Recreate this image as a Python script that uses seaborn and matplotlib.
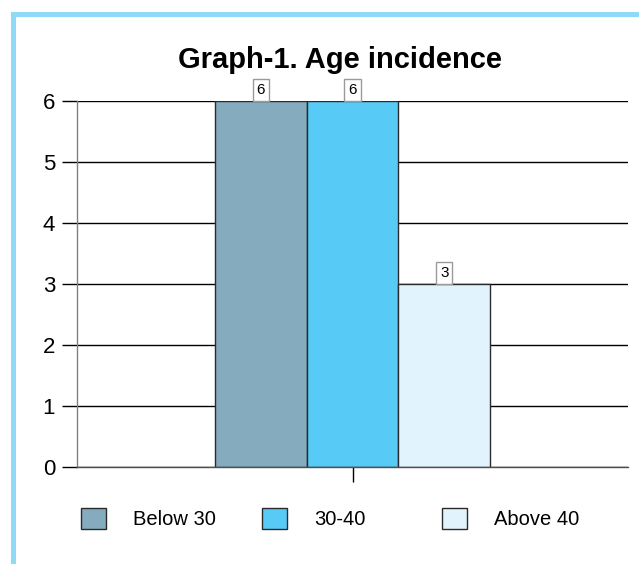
import pandas as pd
import matplotlib.pyplot as plt
import matplotlib.patches as mpatches
import seaborn as sns

# chart data
groups = ["Below 30", "30-40", "Above 40"]
counts = [6, 6, 3]
colors = ["#84abbe", "#57cbf5", "#e1f3fd"]
yticks = [0, 1, 2, 3, 4, 5, 6]

sns.set_theme(style="white")
plt.rcParams['font.family'] = ['Liberation Sans', 'DejaVu Sans']
plt.rcParams['text.color'] = 'black'

df = pd.DataFrame({"cat": [""] * len(groups), "age": groups, "count": counts})

fig = plt.figure(figsize=(6.39, 5.64), dpi=100)
fig.patch.set_facecolor("white")
ax = fig.add_axes([77 / 639, 1 - 467 / 564, 551 / 639, 366 / 564])

sns.barplot(data=df, x="cat", y="count", hue="age", hue_order=groups,
            palette=colors, edgecolor="#2a2a2a", linewidth=1, saturation=1,
            width=0.8, ax=ax)

ax.set_xlim(-0.8, 0.8)
ax.set_ylim(0, 6)
ax.set_yticks(yticks)
ax.set_xlabel("")
ax.set_ylabel("")
ax.set_xticks([0])
ax.set_xticklabels([""])

ax.yaxis.grid(True, color="black", linewidth=1)
ax.set_axisbelow(True)
ax.tick_params(axis="y", length=10.8, width=1, color="black", pad=5,
               labelsize=16, labelcolor="black", left=True)
ax.tick_params(axis="x", length=10.8, width=1, color="black", bottom=True)

for s in ["top", "right"]:
    ax.spines[s].set_visible(False)
ax.spines["left"].set_color("#808080")
ax.spines["left"].set_linewidth(1)
ax.spines["bottom"].set_color("#505050")
ax.spines["bottom"].set_linewidth(1)

for c in ax.containers:
    ax.bar_label(c, padding=2.8, fontsize=11, color="black",
                 bbox=dict(boxstyle="square,pad=0.25", fc="white",
                           ec="#9a9a9a", lw=1))

ax.set_title("Graph-1. Age incidence", fontsize=21, fontweight="bold",
             color="black", x=(340 - 77) / 551, pad=24)

handles, labels = ax.get_legend_handles_labels()
ax.get_legend().remove()
fs = 14.5
em = fs * 100 / 72
for h, l, xpos in zip(handles, labels, [81, 262, 442]):
    leg = fig.legend([h], [l], loc="center left",
                     bbox_to_anchor=(xpos / 639, 1 - 518.5 / 564),
                     frameon=False, fontsize=fs, handlelength=25 / em,
                     handleheight=25 / em, handletextpad=27 / em,
                     borderpad=0, borderaxespad=0)
    for t in leg.get_texts():
        t.set_color("black")

# light blue frame at top and left
border = "#8fdaf7"
fig.add_artist(mpatches.Rectangle((11 / 639, 1 - 17 / 564), 1, 5 / 564,
                                  transform=fig.transFigure, color=border,
                                  lw=0))
fig.add_artist(mpatches.Rectangle((11 / 639, 0), 5 / 639, 1 - 12 / 564,
                                  transform=fig.transFigure, color=border,
                                  lw=0))

fig.savefig("out.png", dpi=100, facecolor="white")
